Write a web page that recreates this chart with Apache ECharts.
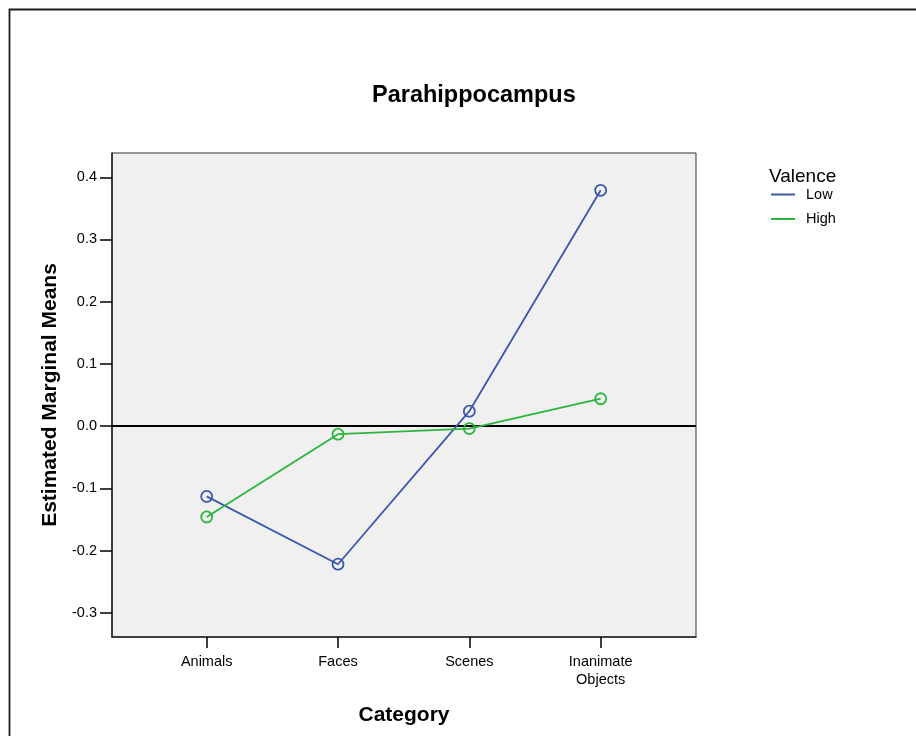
<!DOCTYPE html>
<html>
<head>
<meta charset="utf-8">
<script src="https://cdn.jsdelivr.net/npm/echarts@6/dist/echarts.min.js"></script>
<style>
html,body{margin:0;padding:0;background:#fff;}
#chart{width:916px;height:736px;}
</style>
</head>
<body>
<div id="chart"></div>
<script>
var categories = ['Animals', 'Faces', 'Scenes', 'Inanimate\nObjects'];
var lowValues = [-0.113, -0.222, 0.024, 0.379];
var highValues = [-0.146, -0.013, -0.004, 0.044];
var yTicks = [-0.3, -0.2, -0.1, 0.0, 0.1, 0.2, 0.3, 0.4];
var xTicks = [0, 1, 2, 3];

var BLUE = '#3d57ab';
var GREEN = '#2bb53c';
var FONT = 'Liberation Sans, Arial, sans-serif';

function toPairs(vals) { return vals.map(function (v, i) { return [i, v]; }); }

var chart = echarts.init(document.getElementById('chart'), null, { renderer: 'canvas' });

function makeSeries(name, vals, color, withZero) {
  var s = {
    name: name,
    type: 'line',
    data: toPairs(vals),
    symbol: 'circle',
    symbolSize: 11,
    showSymbol: true,
    color: color,
    lineStyle: { color: color, width: 1.8 },
    itemStyle: { color: 'rgba(0,0,0,0)', borderColor: color, borderWidth: 1.8 },
    emphasis: { disabled: true },
    animation: false,
    z: 3
  };
  if (withZero) {
    s.markLine = {
      silent: true,
      symbol: ['none', 'none'],
      label: { show: false },
      lineStyle: { color: '#000', width: 2, type: 'solid' },
      data: [{ yAxis: 0 }],
      animation: false,
      z: 2
    };
  }
  return s;
}

var option = {
  backgroundColor: '#fff',
  animation: false,
  textStyle: { fontFamily: FONT },
  title: [
    { text: 'Parahippocampus', left: 372, top: 84, padding: 0,
      textStyle: { fontFamily: FONT, fontSize: 23.5, fontWeight: 'bold', color: '#000' } },
    { text: 'Valence', left: 769, top: 167, padding: 0,
      textStyle: { fontFamily: FONT, fontSize: 19, fontWeight: 'normal', color: '#000' } }
  ],
  legend: {
    orient: 'vertical',
    left: 771,
    top: 187,
    padding: 0,
    itemWidth: 24,
    itemHeight: 2,
    itemGap: 9.5,
    selectedMode: false,
    textStyle: { fontFamily: FONT, fontSize: 14.5, color: '#000', padding: [0, 0, 0, 6] },
    data: [
      { name: 'Low', icon: 'rect', itemStyle: { color: BLUE, borderWidth: 0 } },
      { name: 'High', icon: 'rect', itemStyle: { color: GREEN, borderWidth: 0 } }
    ]
  },
  graphic: [
    { type: 'rect', silent: true, z: 100,
      shape: { x: 9.5, y: 9.5, width: 1000, height: 1000 },
      style: { fill: 'none', stroke: '#1a1a1a', lineWidth: 1.8 } }
  ],
  grid: {
    left: 112, top: 153, width: 584, height: 484,
    show: true, backgroundColor: '#f0f0f0', borderColor: '#333', borderWidth: 1
  },
  xAxis: {
    type: 'value',
    min: -0.721,
    max: 3.726,
    name: 'Category',
    nameLocation: 'middle',
    nameGap: 68,
    nameTextStyle: { fontFamily: FONT, fontSize: 21, fontWeight: 'bold', color: '#000' },
    axisLine: { show: true, onZero: false, lineStyle: { color: '#222', width: 1.5 } },
    axisTick: { show: true, customValues: xTicks, length: 11, lineStyle: { color: '#000', width: 1.5 } },
    axisLabel: {
      customValues: xTicks,
      margin: 16,
      fontFamily: FONT, fontSize: 14.5, color: '#000', lineHeight: 18,
      formatter: function (v) { return categories[Math.round(v)] || ''; }
    },
    splitLine: { show: false }
  },
  yAxis: {
    type: 'value',
    min: -0.339,
    max: 0.439,
    name: 'Estimated Marginal Means',
    nameLocation: 'middle',
    nameGap: 51,
    nameTextStyle: { fontFamily: FONT, fontSize: 21, fontWeight: 'bold', color: '#000' },
    axisLine: { show: true, onZero: false, lineStyle: { color: '#222', width: 1.5 } },
    axisTick: { show: true, customValues: yTicks, length: 12, lineStyle: { color: '#000', width: 1.5 } },
    axisLabel: {
      customValues: yTicks,
      margin: 15,
      fontFamily: FONT, fontSize: 14.5, color: '#000',
      formatter: function (v) { return (Math.abs(v) < 1e-9 ? 0 : v).toFixed(1); }
    },
    splitLine: { show: false }
  },
  series: [
    makeSeries('Low', lowValues, BLUE, true),
    makeSeries('High', highValues, GREEN, false)
  ]
};

chart.setOption(option);
</script>
</body>
</html>
